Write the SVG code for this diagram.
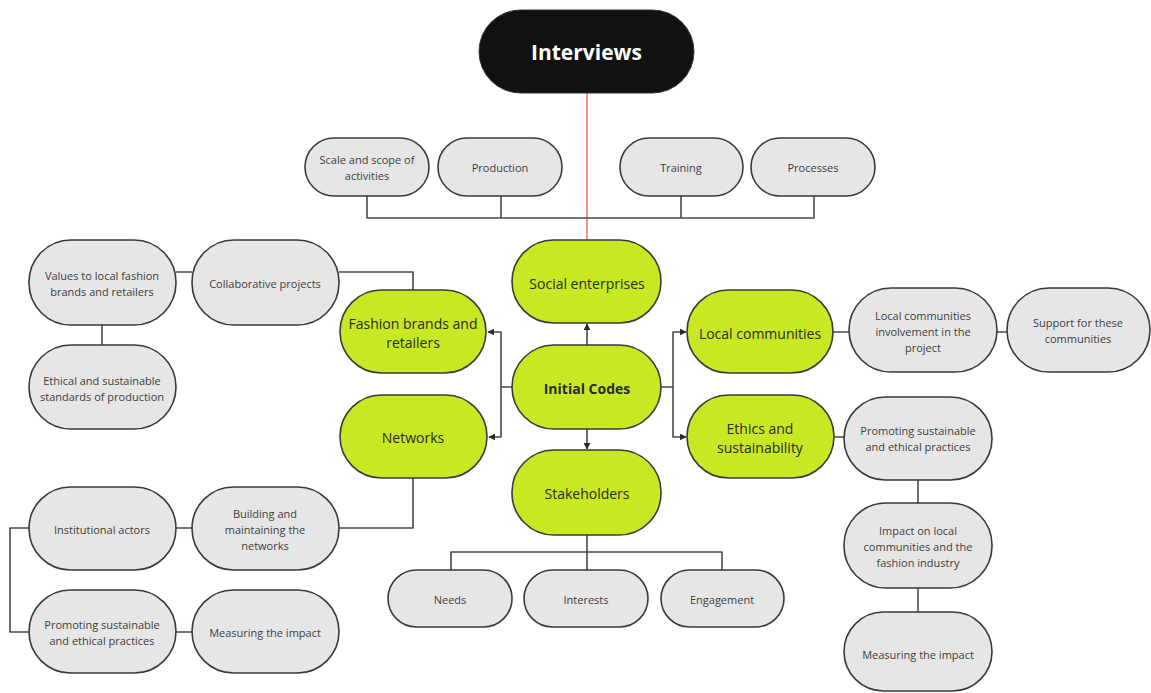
<svg xmlns="http://www.w3.org/2000/svg" width="1151" height="693" viewBox="0 0 1151 693">
<defs>
<style>
.g rect{fill:#e6e6e6;stroke:#3a3a3a;stroke-width:1.6}
.k rect{fill:#c7e823;stroke:#3a3a3a;stroke-width:1.6}
.g text{font-family:"Open Sans","Liberation Sans",sans-serif;font-size:11px;fill:#3d3d3d;text-anchor:middle;dominant-baseline:central}
.k text{font-family:"Open Sans","Liberation Sans",sans-serif;font-size:14px;fill:#2a2a2a;text-anchor:middle;dominant-baseline:central}
.c path{fill:none;stroke:#4a4a4a;stroke-width:1.6;stroke-linejoin:round}
</style>
<marker id="ah" viewBox="0 0 10 10" refX="9" refY="5" markerWidth="7" markerHeight="7" markerUnits="userSpaceOnUse" orient="auto"><path d="M0,0 L10,5 L0,10 z" fill="#2a2a2a"/></marker>
</defs>
<rect width="1151" height="693" fill="#ffffff"/>
<g class="c" id="connectors">
<path d="M587,93 V240" style="stroke:#f27a6b"/>
<path d="M367,196 V218 H814 V196 M501,196 V218 M681,196 V218"/>
<path d="M176,272 H192 M339,272 H413 V290 M102,325 V345"/>
<path d="M512,387 H501 V332 H488" marker-end="url(#ah)"/>
<path d="M501,387 V437 H489" marker-end="url(#ah)"/>
<path d="M661,387 H673 V332 H686" marker-end="url(#ah)"/>
<path d="M673,387 V437 H686" marker-end="url(#ah)"/>
<path d="M587,345 V324" marker-end="url(#ah)"/>
<path d="M587,429 V449" marker-end="url(#ah)"/>
<path d="M833,332 H849 M997,332 H1007"/>
<path d="M834,437 H844 M918,480 V503 M918,588 V612"/>
<path d="M587,535 V570 M451,570 V552 H722 V570"/>
<path d="M413,478 V528 H339 M176,528 H192 M176,632 H192 M29,528 H10 V632 H29"/>
</g>
<g id="interviews"><rect x="479" y="10" width="215" height="83" rx="41.5" fill="#111111" stroke="#333" stroke-width="1"/><text x="586.5" y="52" font-family="'Open Sans','Liberation Sans',sans-serif" font-weight="bold" font-size="21" fill="#ffffff" text-anchor="middle" dominant-baseline="central">Interviews</text></g>
<g class="g" id="scale"><rect x="305" y="138" width="124" height="58" rx="29"/><text x="367" y="159">Scale and scope of</text><text x="367" y="175">activities</text></g>
<g class="g" id="production"><rect x="438" y="138" width="124" height="58" rx="29"/><text x="500" y="167">Production</text></g>
<g class="g" id="training"><rect x="620" y="138" width="123" height="58" rx="29"/><text x="681" y="167">Training</text></g>
<g class="g" id="processes"><rect x="751" y="138" width="124" height="58" rx="29"/><text x="813" y="167">Processes</text></g>
<g class="g" id="values"><rect x="29" y="240" width="147" height="85" rx="42"/><text x="102" y="275">Values to local fashion</text><text x="102" y="291">brands and retailers</text></g>
<g class="g" id="collab"><rect x="192" y="240" width="147" height="85" rx="42"/><text x="265" y="283">Collaborative projects</text></g>
<g class="g" id="ethical"><rect x="29" y="345" width="147" height="84" rx="42"/><text x="102" y="380">Ethical and sustainable</text><text x="102" y="396">standards of production</text></g>
<g class="k" id="fashion"><rect x="340" y="290" width="146" height="83" rx="41.5"/><text x="413" y="323">Fashion brands and</text><text x="413" y="342">retailers</text></g>
<g class="k" id="social"><rect x="512" y="240" width="149" height="83" rx="41.5"/><text x="587" y="283">Social enterprises</text></g>
<g class="k" id="initial"><rect x="512" y="345" width="149" height="84" rx="42"/><text x="587" y="388" font-weight="bold" font-size="16">Initial Codes</text></g>
<g class="k" id="stakeholders"><rect x="512" y="450" width="149" height="85" rx="42"/><text x="587" y="493">Stakeholders</text></g>
<g class="k" id="networks"><rect x="340" y="395" width="147" height="83" rx="41.5"/><text x="413" y="437">Networks</text></g>
<g class="k" id="localc"><rect x="687" y="290" width="146" height="83" rx="41.5"/><text x="760" y="333">Local communities</text></g>
<g class="k" id="ethics"><rect x="687" y="395" width="147" height="83" rx="41.5"/><text x="760" y="428">Ethics and</text><text x="760" y="447">sustainability</text></g>
<g class="g" id="involve"><rect x="849" y="288" width="148" height="84" rx="42"/><text x="923" y="315">Local communities</text><text x="923" y="331">involvement in the</text><text x="923" y="347">project</text></g>
<g class="g" id="support"><rect x="1007" y="288" width="143" height="84" rx="42"/><text x="1078" y="322">Support for these</text><text x="1078" y="338">communities</text></g>
<g class="g" id="promote-r"><rect x="844" y="397" width="148" height="83" rx="41.5"/><text x="918" y="430">Promoting sustainable</text><text x="918" y="446">and ethical practices</text></g>
<g class="g" id="impact"><rect x="844" y="503" width="148" height="85" rx="42"/><text x="918" y="530">Impact on local</text><text x="918" y="546">communities and the</text><text x="918" y="562">fashion industry</text></g>
<g class="g" id="measure-r"><rect x="844" y="612" width="148" height="79" rx="39.5"/><text x="918" y="654">Measuring the impact</text></g>
<g class="g" id="needs"><rect x="388" y="570" width="124" height="57" rx="28.5"/><text x="450" y="599">Needs</text></g>
<g class="g" id="interests"><rect x="524" y="570" width="124" height="57" rx="28.5"/><text x="586" y="599">Interests</text></g>
<g class="g" id="engagement"><rect x="661" y="570" width="123" height="57" rx="28.5"/><text x="722" y="599">Engagement</text></g>
<g class="g" id="institutional"><rect x="29" y="487" width="147" height="83" rx="41.5"/><text x="102" y="529">Institutional actors</text></g>
<g class="g" id="building"><rect x="192" y="487" width="147" height="83" rx="41.5"/><text x="265" y="513">Building and</text><text x="265" y="529">maintaining the</text><text x="265" y="545">networks</text></g>
<g class="g" id="promote-l"><rect x="29" y="590" width="147" height="83" rx="41.5"/><text x="102" y="624">Promoting sustainable</text><text x="102" y="640">and ethical practices</text></g>
<g class="g" id="measure-l"><rect x="192" y="590" width="147" height="83" rx="41.5"/><text x="265" y="632">Measuring the impact</text></g>
</svg>
